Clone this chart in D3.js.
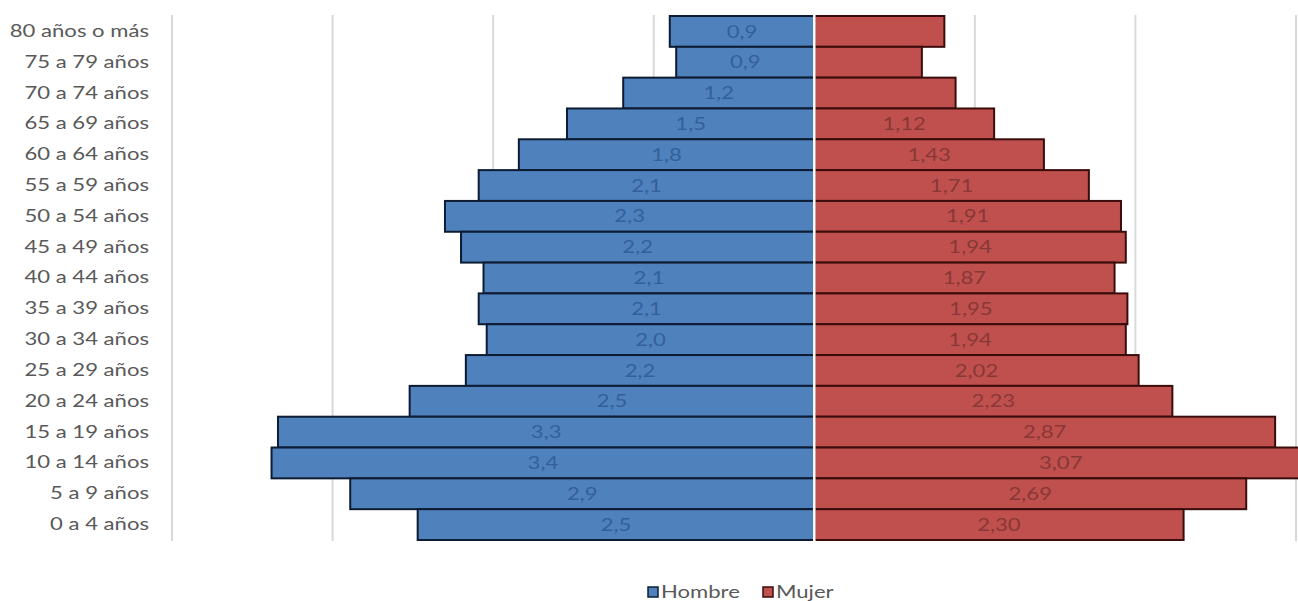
<!DOCTYPE html>
<html lang="es">
<head>
<meta charset="utf-8">
<script src="https://cdn.jsdelivr.net/npm/d3@7"></script>
<style>
  html, body { margin: 0; padding: 0; background: #fff; }
  svg { display: block; }
  text { font-family: Lato, "Open Sans", "Noto Sans", sans-serif; }
</style>
</head>
<body>
<svg id="chart" width="1298" height="601"></svg>
<script>
// Grupos de edad (de mayor a menor, como se leen de arriba abajo)
const grupos = [
  "80 años o más", "75 a 79 años", "70 a 74 años", "65 a 69 años",
  "60 a 64 años", "55 a 59 años", "50 a 54 años", "45 a 49 años",
  "40 a 44 años", "35 a 39 años", "30 a 34 años", "25 a 29 años",
  "20 a 24 años", "15 a 19 años", "10 a 14 años", "5 a 9 años", "0 a 4 años"
];

// Porcentaje de población por sexo
const hombre = [0.90, 0.86, 1.19, 1.54, 1.84, 2.09, 2.30, 2.20, 2.06, 2.09, 2.04, 2.17, 2.52, 3.34, 3.38, 2.89, 2.47];
const mujer  = [0.81, 0.67, 0.88, 1.12, 1.43, 1.71, 1.91, 1.94, 1.87, 1.95, 1.94, 2.02, 2.23, 2.87, 3.07, 2.69, 2.30];

// Grupos cuya barra de mujeres no lleva etiqueta
const mujerSinEtiqueta = ["80 años o más", "75 a 79 años", "70 a 74 años"];

const series = ["Hombre", "Mujer"];
const colores = { Hombre: "#4f81bd", Mujer: "#c0504d" };
const bordes  = { Hombre: "#0e1c33", Mujer: "#3a0c0b" };
const colorEtiqueta = { Hombre: "#34609a", Mujer: "#883836" };

// Texto ensanchado horizontalmente
const ANCHO = 1.3;

const svg = d3.select("#chart");

const x = d3.scaleLinear().domain([-4, 3]).range([172, 1296]);
const y = d3.scaleBand().domain(grupos).range([16, 540]).paddingInner(0).paddingOuter(0);

// Líneas de cuadrícula verticales
const ticks = d3.range(-4, 4, 1);
svg.append("g")
  .selectAll("line")
  .data(ticks.filter(t => t !== 0))
  .join("line")
  .attr("x1", d => x(d)).attr("x2", d => x(d))
  .attr("y1", 15).attr("y2", 541)
  .attr("stroke", "#d9d9d9")
  .attr("stroke-width", 2);

const filas = grupos.map((g, i) => ({ grupo: g, hombre: hombre[i], mujer: mujer[i] }));

// Barras de hombres (a la izquierda) y mujeres (a la derecha)
const barras = svg.append("g");
barras.selectAll("rect.h")
  .data(filas)
  .join("rect")
  .attr("class", "h")
  .attr("x", d => x(-d.hombre))
  .attr("y", d => y(d.grupo))
  .attr("width", d => x(0) - x(-d.hombre))
  .attr("height", y.bandwidth())
  .attr("fill", colores.Hombre)
  .attr("stroke", bordes.Hombre)
  .attr("stroke-width", 2);

barras.selectAll("rect.m")
  .data(filas)
  .join("rect")
  .attr("class", "m")
  .attr("x", x(0))
  .attr("y", d => y(d.grupo))
  .attr("width", d => x(d.mujer) - x(0))
  .attr("height", y.bandwidth())
  .attr("fill", colores.Mujer)
  .attr("stroke", bordes.Mujer)
  .attr("stroke-width", 2);

// Eje central
svg.append("line")
  .attr("x1", x(0)).attr("x2", x(0))
  .attr("y1", 15).attr("y2", 541)
  .attr("stroke", "#ffffff")
  .attr("stroke-width", 2.5);

// Etiquetas de valor
const fmt1 = v => d3.format(".1f")(v).replace(".", ",");
const fmt2 = v => d3.format(".2f")(v).replace(".", ",");

const etiquetas = svg.append("g").attr("font-size", 17).attr("text-anchor", "middle");
etiquetas.selectAll("text.h")
  .data(filas)
  .join("text")
  .attr("class", "h")
  .attr("transform", d => `translate(${(x(-d.hombre) + x(0)) / 2},${y(d.grupo) + y.bandwidth() / 2}) scale(${ANCHO},1)`)
  .attr("dy", "0.36em")
  .attr("fill", colorEtiqueta.Hombre)
  .text(d => fmt1(d.hombre));

etiquetas.selectAll("text.m")
  .data(filas.filter(d => !mujerSinEtiqueta.includes(d.grupo)))
  .join("text")
  .attr("class", "m")
  .attr("transform", d => `translate(${(x(0) + x(d.mujer)) / 2},${y(d.grupo) + y.bandwidth() / 2}) scale(${ANCHO},1)`)
  .attr("dy", "0.36em")
  .attr("fill", colorEtiqueta.Mujer)
  .text(d => fmt2(d.mujer));

// Eje de categorías
const ejeY = svg.append("g")
  .attr("transform", "translate(149,0)")
  .call(d3.axisLeft(y).tickSize(0).tickPadding(0));
ejeY.select(".domain").remove();
ejeY.selectAll("text")
  .attr("font-size", 17)
  .attr("fill", "#595959")
  .attr("transform", `scale(${ANCHO},1)`)
  .style("font-family", "Lato, 'Open Sans', sans-serif");

// Leyenda
const leyenda = svg.append("g").attr("transform", "translate(648,592)");
const items = [
  { nombre: "Hombre", dx: 0 },
  { nombre: "Mujer", dx: 115 }
];
const it = leyenda.selectAll("g").data(items).join("g")
  .attr("transform", d => `translate(${d.dx},0)`);
it.append("rect")
  .attr("x", 0).attr("y", -5)
  .attr("width", 10).attr("height", 10)
  .attr("fill", d => colores[d.nombre])
  .attr("stroke", d => bordes[d.nombre])
  .attr("stroke-width", 1.5);
it.append("text")
  .attr("transform", `translate(13,0) scale(${ANCHO},1)`)
  .attr("dy", "0.36em")
  .attr("font-size", 17)
  .attr("fill", "#595959")
  .text(d => d.nombre);
</script>
</body>
</html>
